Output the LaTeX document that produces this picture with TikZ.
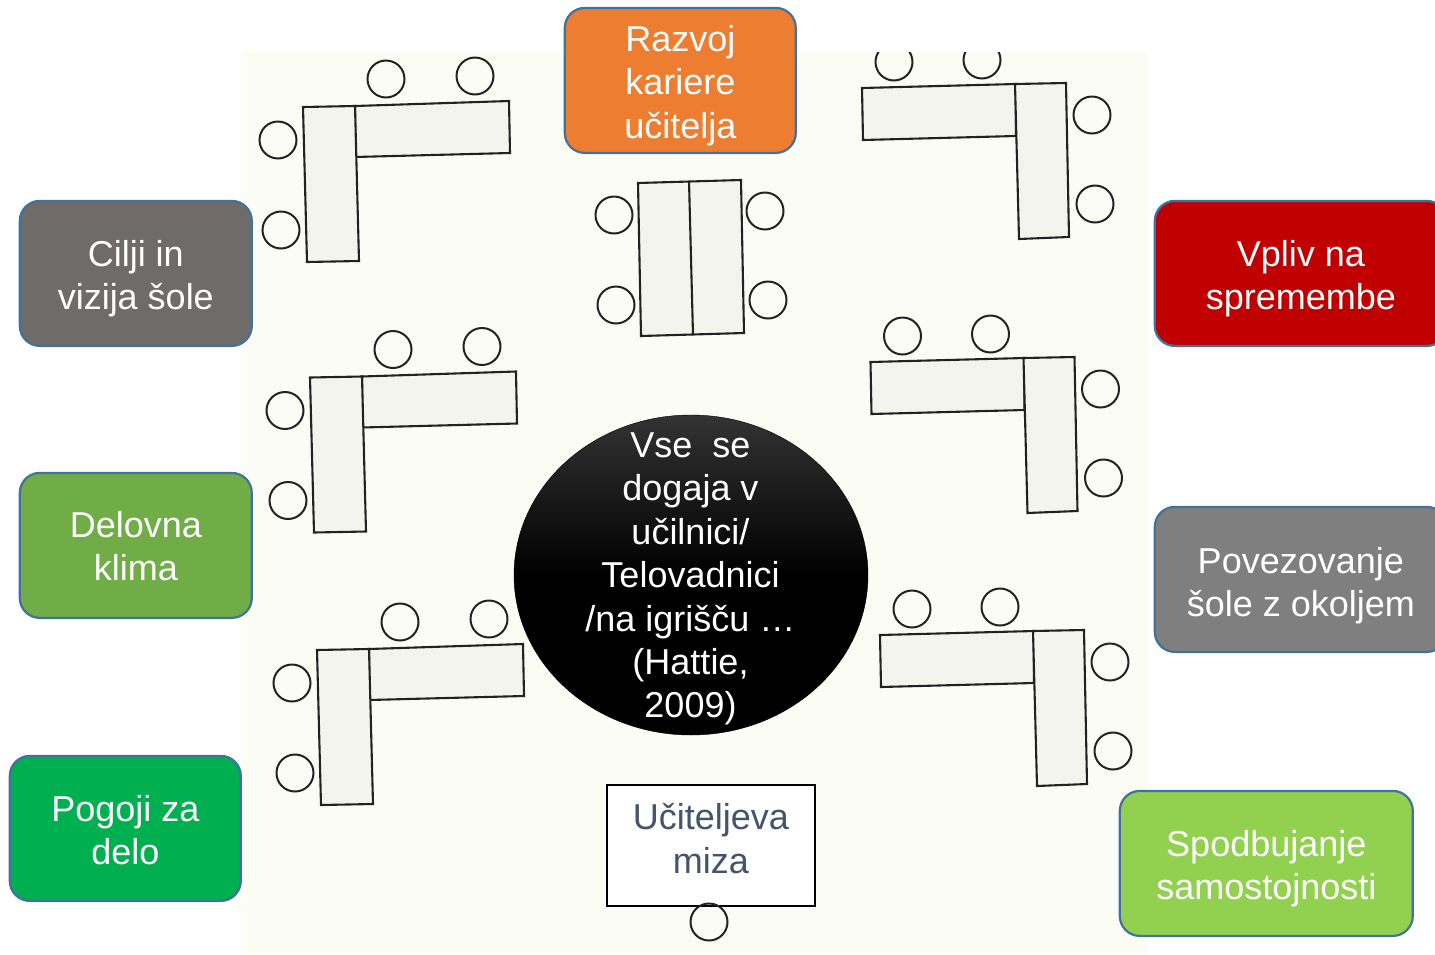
\documentclass[tikz,border=0pt]{standalone}
\usepackage{fontspec}
\setmainfont{Liberation Sans}
\usetikzlibrary{shapes.geometric}
\definecolor{paper}{HTML}{FBFCF4}
\definecolor{deskfill}{HTML}{F3F4EB}
\definecolor{edgeblue}{HTML}{41719C}
\definecolor{inkc}{HTML}{222222}
\tikzset{
  card/.style={draw=edgeblue,line width=2.2pt,rounded corners=20pt,inner sep=0pt,anchor=north west},
  bigtext/.style={align=center,inner sep=0pt,font=\fontsize{36}{43.4}\selectfont},
  cardtext/.style={bigtext,text=white},
  chair/.style={circle,draw=inkc,line width=2pt,minimum size=37pt,inner sep=0pt},
  desk/.style={draw=inkc,line width=2.1pt,fill=deskfill,line join=miter},
}
\newcommand{\LeftDesk}[3]{%
  \begin{scope}[shift={(#2,#3)}]
    \draw[desk] (355,106)--(509,101)--(510,153)--(355,157)--cycle;
    \draw[desk] (303,107)--(355,106)--(359,261)--(307,262)--cycle;
    \node[chair] (#1a) at (386,79) {};
    \node[chair] (#1b) at (475,76) {};
    \node[chair] (#1c) at (278,140) {};
    \node[chair] (#1d) at (281,230) {};
  \end{scope}}
\newcommand{\RightDesk}[3]{%
  \begin{scope}[shift={(#2,#3)}]
    \draw[desk] (862,88)--(1016,84)--(1016,136)--(863,140)--cycle;
    \draw[desk] (1015,84)--(1066,83)--(1069,237)--(1019,239)--cycle;
    \node[chair] (#1a) at (894,62) {};
    \node[chair] (#1b) at (982,60) {};
    \node[chair] (#1c) at (1092,115) {};
    \node[chair] (#1d) at (1095,204) {};
  \end{scope}}
\begin{document}
\begin{tikzpicture}[x=1pt,y=-1pt]
\useasboundingbox (0,0) rectangle (1435,954);
\fill[white] (0,0) rectangle (1435,954);
\fill[paper] (241,52) rectangle (1147,954);
\LeftDesk{la}{0}{0}
\LeftDesk{lb}{7}{270.5}
\LeftDesk{lc}{14}{543}
\RightDesk{ra}{0}{0}
\RightDesk{rb}{8.5}{274}
\RightDesk{rc}{18}{547}
\fill[white] (850,0) rectangle (1147,52);
% centre desk
\draw[desk] (638,183)--(741,180)--(744,333)--(641,336)--cycle;
\draw[desk] (689,181)--(693,335);
\node[chair] (ca) at (614,215) {};
\node[chair] (cb) at (765,211) {};
\node[chair] (cc) at (616,305) {};
\node[chair] (cd) at (768,300) {};
% cards
\node[card,fill={rgb,255:red,237;green,125;blue,49},minimum width=231pt,minimum height=145pt] (razvoj) at (563.7,6.8) {};
\node[cardtext,yshift=-5pt] (razvojt) at (razvoj.center) {Razvoj\\kariere\\učitelja};
\node[card,fill={rgb,255:red,111;green,107;blue,104},minimum width=232pt,minimum height=145pt] (cilji) at (18.7,199.8) {};
\node[cardtext,yshift=-5pt] (ciljit) at (cilji.center) {Cilji in\\vizija šole};
\node[card,fill={rgb,255:red,112;green,173;blue,71},minimum width=232pt,minimum height=145pt] (delovna) at (18.7,471.8) {};
\node[cardtext,yshift=-1pt] (delovnat) at (delovna.center) {Delovna\\klima};
\node[card,fill={rgb,255:red,0;green,176;blue,80},minimum width=231pt,minimum height=145pt] (pogoji) at (8.7,754.8) {};
\node[cardtext,yshift=-2pt] (pogojit) at (pogoji.center) {Pogoji za\\delo};
\node[card,fill={rgb,255:red,192;green,0;blue,0},minimum width=292pt,minimum height=145pt] (vpliv) at (1153.7,199.8) {};
\node[cardtext,yshift=-5pt] (vplivt) at (vpliv.center) {Vpliv na\\spremembe};
\node[card,fill={rgb,255:red,127;green,127;blue,127},minimum width=292pt,minimum height=145pt] (povez) at (1153.7,505.8) {};
\node[cardtext,yshift=-6pt] (povezt) at (povez.center) {Povezovanje\\šole z okoljem};
\node[card,fill={rgb,255:red,146;green,208;blue,80},minimum width=293pt,minimum height=145pt] (spod) at (1118.7,789.8) {};
\node[cardtext,yshift=-5pt] (spodt) at (spod.center) {Spodbujanje\\samostojnosti};
% teacher
\node[draw=black,line width=1.8pt,fill=white,inner sep=0pt,
  minimum width=208pt,minimum height=121pt,anchor=north west] (miza) at (606,784) {};
\node[bigtext,text={rgb,255:red,68;green,84;blue,106},yshift=7pt] (mizat) at (miza.center) {Učiteljeva\\miza};
\node[chair] (ucitelj) at (709,922) {};
% centre ellipse
\node[ellipse,draw=black,inner sep=0pt,minimum width=354pt,minimum height=320pt,
  top color=black!80!white,bottom color=black,middle color=black] (vse) at (691,575) {};
\node[cardtext] (vset) at (690.5,579) {Vse\ \ se\\dogaja v\\učilnici/\\Telovadnici\\/na igrišču …\\(Hattie,\\2009)};
\end{tikzpicture}
\end{document}
